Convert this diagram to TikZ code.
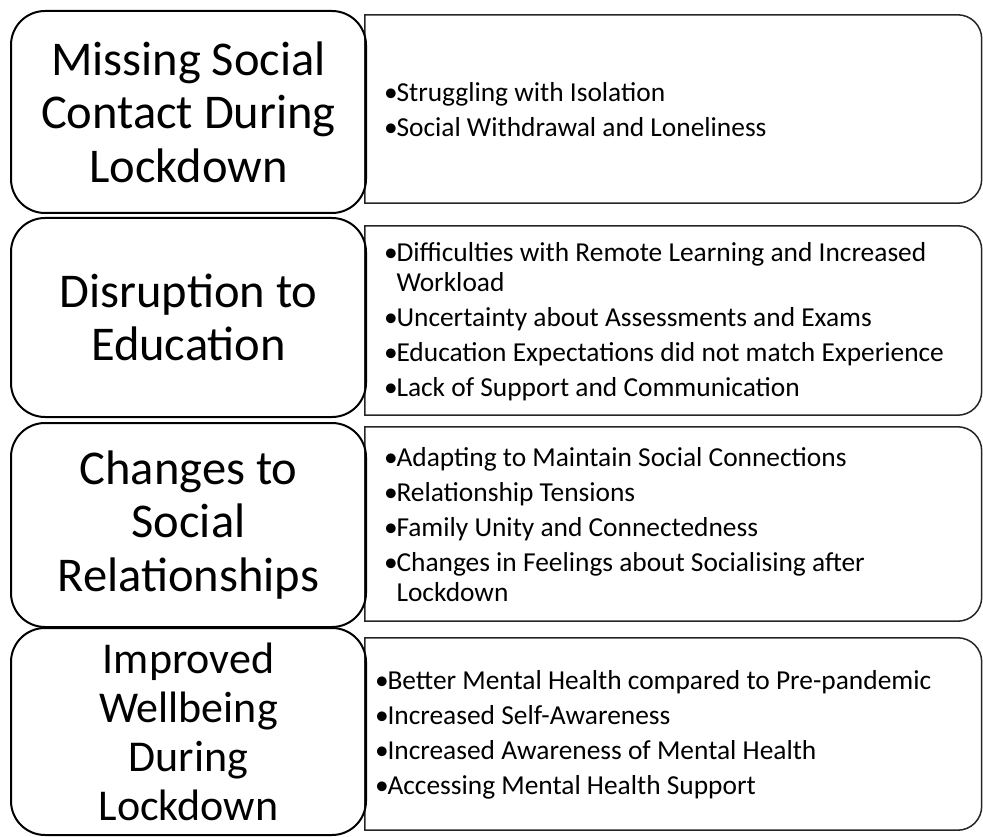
\documentclass[tikz,border=0pt]{standalone}
\usepackage{fontspec}
\setmainfont{Carlito}
\newlength{\bulw}\setlength{\bulw}{12.5pt}
\newcommand{\bitem}[1]{\par\hangindent=\bulw\hangafter=1\noindent\makebox[\bulw][l]{\textbullet}#1}
\newcommand{\rset}[1]{\spaceskip=0pt\xspaceskip=0pt\rightskip=0pt plus 1fil\leftskip=#1\parskip=5pt\relax}
\newcommand{\rend}{\par\vskip 14pt\hrule height 0pt depth 0pt\relax}
\tikzset{
  lbox/.style={draw=black, line width=2pt, rounded corners=34pt, align=center, inner sep=0pt,
    font=\fontsize{48.5}{53.5}\selectfont, minimum width=355pt},
  lboxsmall/.style={lbox, font=\fontsize{44}{49}\selectfont},
  rbox/.style={inner sep=0pt, text width=616.5pt, minimum width=616.5pt, align=left,
    font=\fontsize{27.4}{30}\selectfont},
  rline/.style={draw=black!85, line width=1.5pt}
}
\newcommand{\rframe}[1]{\draw[rline] (#1.north west) -- ([xshift=-24pt]#1.north east)
  arc[start angle=90,end angle=0,radius=24pt] -- ([yshift=24pt]#1.south east)
  arc[start angle=0,end angle=-90,radius=24pt] -- (#1.south west) -- cycle;}
\begin{document}
\begin{tikzpicture}[x=1pt,y=-1pt]
\useasboundingbox (0,0) rectangle (983,837);
% right boxes
\node[rbox, minimum height=188pt] (r1) at (673.25,109)
  {\rset{19pt}%
   \bitem{Struggling with Isolation}
   \bitem{Social Withdrawal and Loneliness}\rend};
\node[rbox, minimum height=189pt] (r2) at (673.25,320.5)
  {\rset{19pt}%
   \bitem{Difficulties with Remote Learning and Increased\newline Workload}
   \bitem{Uncertainty about Assessments and Exams}
   \bitem{Education Expectations did not match Experience}
   \bitem{Lack of Support and Communication}\rend};
\node[rbox, minimum height=194pt] (r3) at (673.25,524)
  {\rset{19pt}%
   \bitem{Adapting to Maintain Social Connections}
   \bitem{Relationship Tensions}
   \bitem{Family Unity and Connectedness}
   \bitem{Changes in Feelings about Socialising after\newline Lockdown}\rend};
\node[rbox, minimum height=192pt] (r4) at (673.25,734)
  {\rset{10pt}%
   \bitem{Better Mental Health compared to Pre-pandemic}
   \bitem{Increased Self-Awareness}
   \bitem{Increased Awareness of Mental Health}
   \bitem{Accessing Mental Health Support}\rend};
\rframe{r1}
\rframe{r2}
\rframe{r3}
\rframe{r4}
% left boxes
\node[lbox, minimum height=202pt] (l1) at (188.5,112) {Missing Social\\Contact During\\Lockdown};
\node[lbox, minimum height=199pt] (l2) at (188.5,317.5) {Disruption to\\Education};
\node[lbox, minimum height=204pt] (l3) at (188.5,525) {Changes to\\Social\\Relationships};
\node[lboxsmall, minimum height=207pt] (l4) at (188.5,731.5) {Improved\\Wellbeing\\During\\Lockdown};
\end{tikzpicture}
\end{document}
